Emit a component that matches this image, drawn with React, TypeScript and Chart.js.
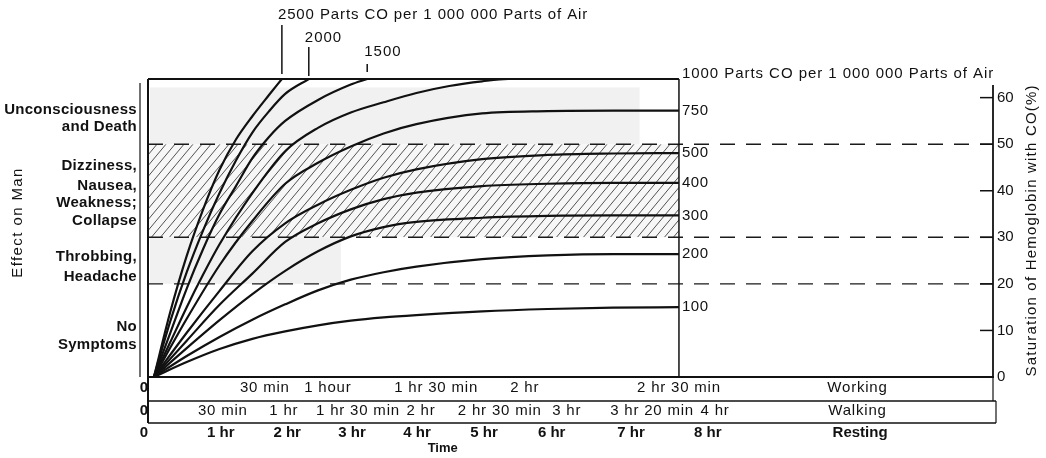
import React, { useEffect, useRef } from "react";
import { Chart, registerables } from "chart.js";
Chart.register(...registerables);

// ---- data (hours of resting exposure vs % COHb) ----
const ppmLevels = [2500, 2000, 1500, 1000, 750, 500, 400, 300, 200, 100];
const t2500 = [0, 0.25, 0.5, 0.75, 1, 1.25, 1.5, 1.75, 1.95];
const s2500 = [0, 14, 26, 36, 44.5, 51, 56, 60.5, 64];
const t2000 = [0, 0.25, 0.5, 0.75, 1, 1.25, 1.5, 1.75, 2, 2.36];
const s2000 = [0, 12, 22.5, 31.5, 39.5, 46.5, 52.5, 57, 60.8, 64];
const t1500 = [0, 0.25, 0.5, 0.75, 1, 1.25, 1.5, 1.75, 2, 2.5, 3, 3.25];
const s1500 = [0, 9.5, 19, 27.5, 35, 41, 47, 51.5, 55, 59.5, 62.8, 64];
const t1000 = [0, 0.25, 0.5, 0.75, 1, 1.5, 2, 2.5, 3, 3.5, 4, 4.5, 5, 5.4, 8];
const s1000 = [0, 7.5, 15, 22, 28.5, 39.5, 48.5, 53.5, 56.8, 59, 61, 62.5, 63.5, 64, 64];
const tStd = [0, 0.5, 1, 1.5, 2, 2.5, 3, 3.5, 4, 5, 6, 7, 8];
const s750 = [0, 12.5, 24, 33.5, 41.5, 46, 49.5, 52.3, 54.3, 56.6, 57.1, 57.2, 57.2];
const s500 = [0, 9.5, 18.5, 27, 33, 37, 40.2, 42.8, 44.6, 46.8, 47.7, 48, 48.1];
const s400 = [0, 7.8, 15.5, 22.2, 29, 33, 36, 38.2, 39.6, 41, 41.5, 41.7, 41.7];
const s300 = [0, 6.2, 12.2, 17.8, 22.8, 27, 30.2, 32.2, 33.3, 34.2, 34.6, 34.7, 34.7];
const s200 = [0, 4.5, 8.6, 12.3, 15.6, 18.6, 20.9, 22.5, 23.7, 25.3, 26.1, 26.4, 26.4];
const s100 = [0, 3.2, 6.0, 8.2, 9.8, 11.1, 12.1, 12.8, 13.3, 14.1, 14.6, 14.9, 15.0];

const curveTimes = [t2500, t2000, t1500, t1000, tStd, tStd, tStd, tStd, tStd, tStd];
const curveSats = [s2500, s2000, s1500, s1000, s750, s500, s400, s300, s200, s100];

const endHour = 8;
const symptomThresholds = [20, 30, 50];
const satTicks = [0, 10, 20, 30, 40, 50, 60];

const topLabels = ["2500 Parts CO per 1 000 000 Parts of Air", "2000", "1500"];
const endLabels = ["1000 Parts CO per 1 000 000 Parts of Air", "750", "500", "400", "300", "200", "100"];

const effectLines = ["Unconsciousness", "and Death", "Dizziness,", "Nausea,", "Weakness;", "Collapse", "Throbbing,", "Headache", "No", "Symptoms"];
const effectLevels = [57.3, 53.7, 45.3, 41.0, 37.3, 33.5, 25.8, 21.5, 10.7, 6.9];

// time-row labels, positioned at equivalent resting hours
const restLabels = ["1 hr", "2 hr", "3 hr", "4 hr", "5 hr", "6 hr", "7 hr", "8 hr", "Resting"];
const restPos = [1.02, 2.03, 3.02, 4.01, 5.03, 6.06, 7.27, 8.44, 10.76];
const workLabels = ["30 min", "1 hour", "1 hr 30 min", "2 hr", "2 hr 30 min", "Working"];
const workPos = [1.69, 2.65, 4.3, 5.65, 8.0, 10.72];
const walkLabels = ["30 min", "1 hr", "1 hr 30 min", "2 hr", "2 hr 30 min", "3 hr", "3 hr 20 min", "4 hr", "Walking"];
const walkPos = [1.05, 1.98, 3.11, 4.07, 5.27, 6.29, 7.59, 8.55, 10.72];

const FAM = '"Liberation Sans", Arial, sans-serif';
const INK = "#111";

function txt(ctx: any, s: string, x: number, y: number, font: string, align: string = "left", spacing = 0) {
  ctx.save();
  ctx.font = font;
  ctx.textAlign = align;
  ctx.textBaseline = "middle";
  ctx.fillStyle = INK;
  try { ctx.letterSpacing = spacing + "px"; } catch (e) {}
  ctx.fillText(s, x, y);
  ctx.restore();
}

function rtxt(ctx: any, s: string, x: number, y: number, font: string, spacing = 0) {
  ctx.save();
  ctx.translate(x, y);
  ctx.rotate(-Math.PI / 2);
  ctx.font = font;
  ctx.textAlign = "center";
  ctx.textBaseline = "middle";
  ctx.fillStyle = INK;
  try { ctx.letterSpacing = spacing + "px"; } catch (e) {}
  ctx.fillText(s, 0, 0);
  ctx.restore();
}

function line(ctx: any, x1: number, y1: number, x2: number, y2: number, w = 1.5) {
  ctx.save();
  ctx.strokeStyle = INK;
  ctx.lineWidth = w;
  ctx.beginPath();
  ctx.moveTo(x1, y1);
  ctx.lineTo(x2, y2);
  ctx.stroke();
  ctx.restore();
}

const overlay = {
  id: "overlay",
  beforeDatasetsDraw(chart: any) {
    const { ctx, chartArea: ca, scales } = chart;
    const X = (v: number) => scales.x.getPixelForValue(v);
    const Y = (v: number) => scales.y.getPixelForValue(v);
    const xEnd = X(endHour);
    ctx.save();
    ctx.fillStyle = "rgba(0,0,0,0.055)";
    ctx.fillRect(ca.left + 2, Y(62.2), X(7.4) - ca.left - 2, Y(50) - Y(62.2));
    ctx.fillRect(ca.left + 2, Y(30), X(2.85) - ca.left - 2, Y(20) - Y(30));
    ctx.fillStyle = "rgba(0,0,0,0.03)";
    ctx.fillRect(ca.left, Y(50), xEnd - ca.left, Y(30) - Y(50));
    // hatching
    const yT = Y(50), yB = Y(30), h = yB - yT, dx = h / 1.2;
    ctx.beginPath();
    ctx.rect(ca.left, yT, xEnd - ca.left, h);
    ctx.clip();
    ctx.strokeStyle = "rgba(25,25,25,0.75)";
    ctx.lineWidth = 1;
    ctx.beginPath();
    for (let x = ca.left - dx; x < xEnd + dx; x += 9) {
      ctx.moveTo(x, yB);
      ctx.lineTo(x + dx, yT);
    }
    ctx.stroke();
    ctx.restore();
    // threshold dashed lines
    ctx.save();
    ctx.setLineDash([15, 11]);
    ctx.strokeStyle = "#1a1a1a";
    ctx.lineWidth = 1.4;
    for (const v of symptomThresholds) {
      ctx.beginPath();
      ctx.moveTo(ca.left, Y(v));
      ctx.lineTo(ca.right, Y(v));
      ctx.stroke();
    }
    ctx.restore();
  },
  afterDatasetsDraw(chart: any) {
    const { ctx, chartArea: ca, scales } = chart;
    const X = (v: number) => scales.x.getPixelForValue(v);
    const Y = (v: number) => scales.y.getPixelForValue(v);
    const xEnd = X(endHour);
    const top = Y(64);
    const bot = ca.bottom;

    // plot box
    line(ctx, ca.left, top, xEnd, top, 2);
    line(ctx, ca.left, top, ca.left, bot + 46, 2);
    line(ctx, xEnd, top, xEnd, bot, 1.5);
    line(ctx, ca.left - 8, top + 4, ca.left - 8, bot, 1.2);
    // right saturation axis line
    line(ctx, ca.right, Y(62.7), ca.right, bot, 1.8);
    // time-row boxes
    line(ctx, ca.left, bot + 24, ca.right + 3, bot + 24, 1.5);
    line(ctx, ca.left, bot + 46, ca.right + 3, bot + 46, 1.5);
    line(ctx, ca.right, bot, ca.right, bot + 24, 1.2);
    line(ctx, ca.right + 3, bot + 24, ca.right + 3, bot + 46, 1.2);

    // inward tick marks on right axis
    for (const v of satTicks) {
      if (v === 0) continue;
      line(ctx, ca.right - 13, Y(v), ca.right, Y(v), 1.5);
    }

    // top annotations with leader lines
    const leadTop = [54, 32, 15];
    const leadBot = [5, 3, 7];
    const textY = [64, 41, 27];
    const textDx = [4, 4, 3];
    const sp = [0.9, 1, 1];
    for (let i = 0; i < 3; i++) {
      const t = curveTimes[i];
      const lx = X(t[t.length - 1]);
      line(ctx, lx, top - leadTop[i], lx, top - leadBot[i], 1.5);
      txt(ctx, topLabels[i], lx - textDx[i], top - textY[i], `15px ${FAM}`, "left", sp[i]);
    }

    // end-of-curve labels
    for (let i = 3; i < ppmLevels.length; i++) {
      const s = curveSats[i];
      const y = i === 3 ? top - 5 : Y(s[s.length - 1]);
      txt(ctx, endLabels[i - 3], xEnd + 3, y, `15px ${FAM}`, "left", i === 3 ? 0.95 : 0.5);
    }

    // effect labels
    for (let i = 0; i < effectLines.length; i++) {
      txt(ctx, effectLines[i], ca.left - 11, Y(effectLevels[i]), `bold 15px ${FAM}`, "right", 0.3);
    }
    rtxt(ctx, "Effect on Man", 18, Y(33.2), `15px ${FAM}`, 1.4);
    rtxt(ctx, "Saturation of Hemoglobin with CO(%)", ca.right + 39, Y(31.5), `15px ${FAM}`, 1.2);

    // time rows
    for (let i = 0; i < workLabels.length; i++) {
      txt(ctx, workLabels[i], X(workPos[i]), bot + 11, `15px ${FAM}`, "center", 0.8);
    }
    for (let i = 0; i < walkLabels.length; i++) {
      txt(ctx, walkLabels[i], X(walkPos[i]), bot + 34, `15px ${FAM}`, "center", 0.8);
    }
    for (const dy of [11, 34, 56]) {
      txt(ctx, "0", ca.left - 4, bot + dy, `bold 15px ${FAM}`, "center");
    }
    txt(ctx, "Time", X(4.4), bot + 71, `bold 13px ${FAM}`, "center");
  },
};

export default function App() {
  const ref = useRef<HTMLCanvasElement | null>(null);
  useEffect(() => {
    if (!ref.current) return;
    const datasets = ppmLevels.map((p, i) => ({
      label: `${p} ppm`,
      data: curveTimes[i].map((t, j) => ({ x: t, y: curveSats[i][j] })),
      borderColor: "#111",
      borderWidth: 2.2,
      pointRadius: 0,
      fill: false,
      cubicInterpolationMode: "monotone" as const,
    }));
    const chart = new Chart(ref.current, {
      type: "line",
      data: { datasets },
      options: {
        animation: false,
        responsive: false,
        devicePixelRatio: 1,
        layout: { padding: { left: 148, top: 79, right: 0, bottom: 0 } },
        plugins: { legend: { display: false }, tooltip: { enabled: false }, title: { display: false } },
        scales: {
          x: {
            type: "linear",
            min: -0.09,
            max: 12.785,
            grid: { display: false, drawTicks: false },
            border: { display: true, color: INK, width: 2 },
            afterBuildTicks: (s: any) => { s.ticks = restPos.map((v) => ({ value: v })); },
            afterFit: (s: any) => { s.height = 81; },
            ticks: {
              autoSkip: false,
              maxRotation: 0,
              padding: 47,
              color: INK,
              font: { family: FAM, size: 15, weight: "bold" },
              callback: (_v: any, i: number) => restLabels[i],
            },
          },
          y: {
            type: "linear",
            position: "right",
            min: 0,
            max: 64,
            grid: { display: false, drawTicks: false },
            border: { display: false },
            afterBuildTicks: (s: any) => { s.ticks = satTicks.map((v) => ({ value: v })); },
            afterFit: (s: any) => { s.width = 53; },
            ticks: { padding: 4, color: INK, font: { family: FAM, size: 15 } },
          },
        },
      },
      plugins: [overlay],
    });
    return () => chart.destroy();
  }, []);
  return (
    <div style={{ position: "absolute", left: 0, top: 0, width: 1046, height: 458, background: "#fff" }}>
      <canvas ref={ref} width={1046} height={458} style={{ display: "block" }} />
    </div>
  );
}
